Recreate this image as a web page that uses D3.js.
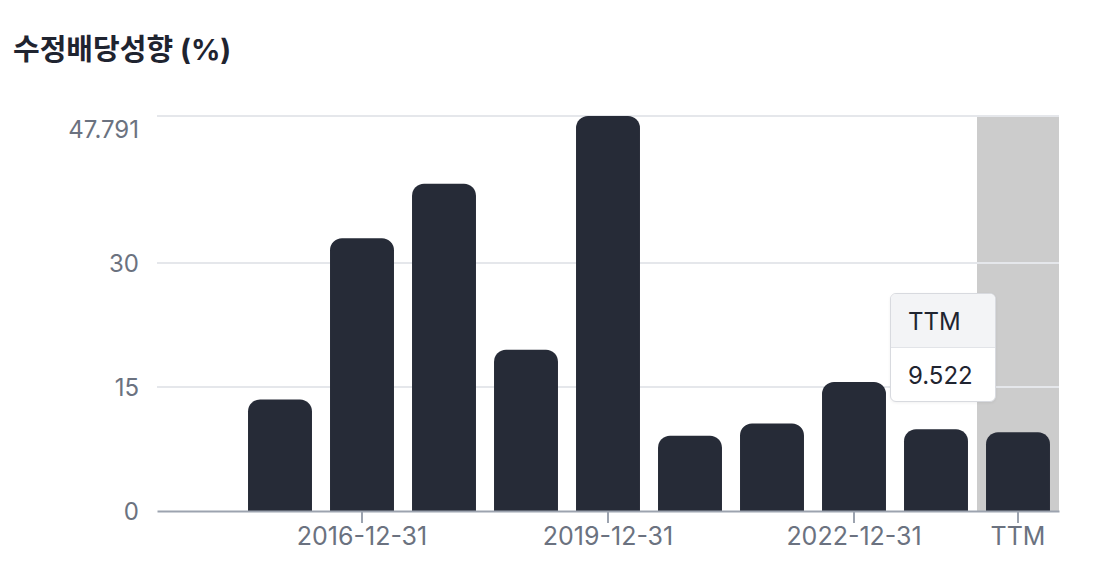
<!DOCTYPE html>
<html>
<head>
<meta charset="utf-8">
<script src="https://cdn.jsdelivr.net/npm/d3@7"></script>
<style>
  body { margin: 0; background: #fff; font-family: Inter, "Noto Sans CJK KR", sans-serif; }
  #graph { position: relative; width: 1094px; height: 578px; }
  .tip { position: absolute; border: 1px solid #d8dadf; border-radius: 6px; background: #fff;
         font-size: 24px; color: #1f2430; overflow: hidden; box-shadow: 0 1px 3px rgba(0,0,0,0.06); }
  .tip .hd { background: #f3f4f6; padding: 0 17px; height: 53px; line-height: 56px; border-bottom: 1px solid #e2e4e8; }
  .tip .bd { padding: 0 17px; height: 53px; line-height: 56px; }
</style>
</head>
<body>
<div id="graph"></div>
<script>
const categories = ["2014-12-31", "2015-12-31", "2016-12-31", "2017-12-31", "2018-12-31",
    "2019-12-31", "2020-12-31", "2021-12-31", "2022-12-31", "2023-12-31", "TTM"]
const values = [null, 13.5, 33.0, 39.6, 19.5, 47.791, 9.1, 10.6, 15.6, 9.9, 9.522]
const yTicks = [0, 15, 30, 47.791]
const xTicks = ["2016-12-31", "2019-12-31", "2022-12-31", "TTM"]

const width = 1094, height = 578
const svg = d3.select("#graph").append("svg")
    .attr("width", width)
    .attr("height", height)

// 标题
svg.append("text")
    .attr("x", 13).attr("y", 60)
    .attr("font-size", 29).attr("font-weight", 700)
    .attr("fill", "#1f2430")
    .text("수정배당성향 (%)")

const x = d3.scaleBand()
    .domain(categories)
    .range([157, 1059])
    .paddingInner(0.22)
    .paddingOuter(0.11)
const y = d3.scaleLinear()
    .domain([0, d3.max(yTicks)])
    .range([511, 116])

// 高亮 TTM 区域
svg.append("rect")
    .attr("x", x("TTM") - x.step() * x.paddingInner() / 2)
    .attr("y", y(d3.max(yTicks)))
    .attr("width", x.step())
    .attr("height", y(0) - y(d3.max(yTicks)))
    .attr("fill", "#cccccc")

// 网格线
svg.append("g")
    .selectAll("line")
    .data(yTicks.filter(d => d > 0))
    .enter().append("line")
    .attr("x1", 157).attr("x2", 1059)
    .attr("y1", d => y(d)).attr("y2", d => y(d))
    .attr("stroke", "#e5e7eb").attr("stroke-width", 2)

// y 轴
const yMax = d3.max(yTicks)
const yAxis = svg.append("g")
    .attr("transform", "translate(139,0)")
    .call(d3.axisLeft(y).tickValues(yTicks).tickSize(0).tickPadding(0)
        .tickFormat(d => d === yMax ? "47.791" : d))
yAxis.select(".domain").remove()
yAxis.selectAll("text")
    .attr("font-size", 24).attr("fill", "#6b7280")
    .attr("font-family", "Inter, sans-serif")
    .attr("dy", d => d === yMax ? "0.9em" : "0.35em")

// 柱子（上方圆角）
const r = 12
svg.append("g")
    .selectAll("path")
    .data(categories.map((c, i) => ({c, v: values[i]})).filter(d => d.v != null))
    .enter().append("path")
    .attr("fill", "#262b37")
    .attr("d", d => {
        const x0 = x(d.c), w = x.bandwidth(), y0 = y(d.v), y1 = y(0)
        const p = d3.path()
        p.moveTo(x0, y1)
        p.lineTo(x0, y0 + r)
        p.arcTo(x0, y0, x0 + r, y0, r)
        p.lineTo(x0 + w - r, y0)
        p.arcTo(x0 + w, y0, x0 + w, y0 + r, r)
        p.lineTo(x0 + w, y1)
        p.closePath()
        return p.toString()
    })

// x 轴
const xAxis = svg.append("g")
    .attr("transform", `translate(0,${y(0)})`)
    .call(d3.axisBottom(x).tickValues(xTicks).tickSize(12).tickPadding(4).tickSizeOuter(0))
xAxis.select(".domain").attr("stroke", "#9ca3af").attr("stroke-width", 2)
xAxis.selectAll(".tick line").attr("stroke", "#9ca3af").attr("stroke-width", 2)
xAxis.selectAll("text")
    .attr("font-size", 25).attr("fill", "#6b7280")
    .attr("font-family", "Inter, sans-serif")

// 提示框
const tip = d3.select("#graph").append("div")
    .attr("class", "tip")
    .style("left", "890px").style("top", "293px").style("width", "104px")
tip.append("div").attr("class", "hd").text("TTM")
tip.append("div").attr("class", "bd").text(values[values.length - 1])
</script>
</body>
</html>
